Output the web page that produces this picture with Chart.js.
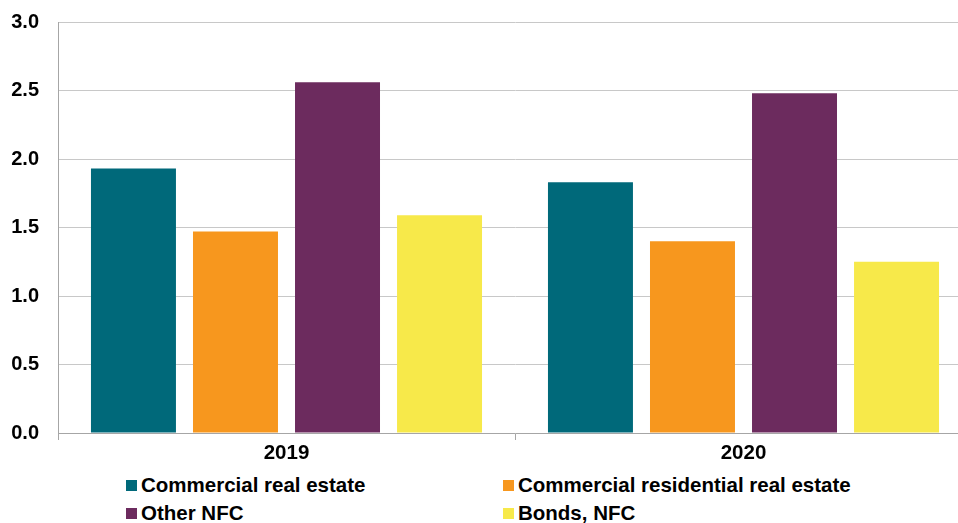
<!DOCTYPE html>
<html>
<head>
<meta charset="utf-8">
<script src="https://cdn.jsdelivr.net/npm/chart.js@4.4.1/dist/chart.umd.min.js"></script>
<style>
  html, body { margin:0; padding:0; background:#fff; overflow:hidden; }
  #wrap { position:relative; width:972px; height:523px; }
  #box { position:absolute; left:0; top:0; width:972px; height:470px; }
  .legend { position:absolute; font:bold 20.5px "Liberation Sans", Arial, sans-serif; color:#000; }
  .legend .it { position:absolute; white-space:nowrap; line-height:22px; }
  .legend .sw { display:inline-block; width:11px; height:11px; margin-right:4px; vertical-align:1px; }
</style>
</head>
<body>
<div id="wrap">
  <div id="box"><canvas id="c"></canvas></div>
  <div class="legend" id="legend"></div>
</div>
<script>
const years = ['2019', '2020'];
const seriesNames = ['Commercial real estate', 'Commercial residential real estate', 'Other NFC', 'Bonds, NFC'];
const seriesColors = ['#00697A', '#F7971E', '#6C2B5E', '#F7E94A'];
const commercialRE = [1.93, 1.83];
const commercialResidentialRE = [1.47, 1.40];
const otherNFC = [2.56, 2.48];
const bondsNFC = [1.59, 1.25];
const yTicks = [0, 0.5, 1.0, 1.5, 2.0, 2.5, 3.0];

const values = [commercialRE, commercialResidentialRE, otherNFC, bondsNFC];
const xFont = { family: '"Liberation Sans", Arial, sans-serif', size: 20.5, weight: 'bold' };
const yFont = { family: '"Liberation Sans", Arial, sans-serif', size: 20, weight: 'bold' };

new Chart(document.getElementById('c'), {
  type: 'bar',
  data: {
    labels: years,
    datasets: seriesNames.map((name, i) => ({
      label: name, data: values[i], backgroundColor: seriesColors[i],
      categoryPercentage: 0.893, barPercentage: 0.833
    }))
  },
  options: {
    responsive: true, maintainAspectRatio: false, animation: false,
    layout: { padding: { top: 22, right: 0, bottom: 0, left: 0 } },
    plugins: { legend: { display: false }, tooltip: { enabled: false } },
    scales: {
      x: {
        grid: { offset: true, drawOnChartArea: false, tickLength: 7, color: '#a6a6a6' },
        border: { color: '#a6a6a6' },
        ticks: { color: '#000', font: xFont, padding: 1 },
        afterFit: s => { s.height = 37; }
      },
      y: {
        min: 0, max: 3,
        afterBuildTicks: s => { s.ticks = yTicks.map(v => ({ value: v })); },
        grid: { color: '#c8c8c8', drawTicks: false },
        border: { color: '#a6a6a6' },
        ticks: { color: '#000', font: yFont, padding: 19, callback: v => v.toFixed(1) },
        afterFit: s => { s.width = 58; s.paddingTop = 0; s.paddingBottom = 0; }
      }
    }
  }
});

const pos = [[126, 474], [503, 474], [126, 502], [503, 502]];
document.getElementById('legend').innerHTML = seriesNames.map((n, i) =>
  `<div class="it" style="left:${pos[i][0]}px;top:${pos[i][1]}px"><span class="sw" style="background:${seriesColors[i]}"></span>${n}</div>`
).join('');
</script>
</body>
</html>
